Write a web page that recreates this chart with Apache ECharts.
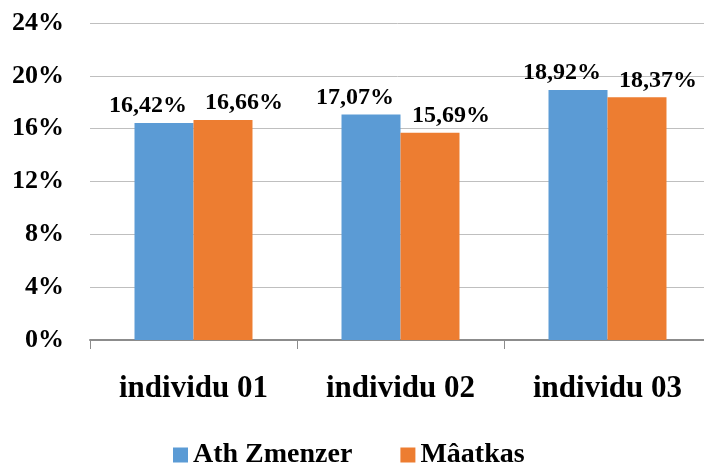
<!DOCTYPE html>
<html>
<head>
<meta charset="utf-8">
<script src="https://cdn.jsdelivr.net/npm/echarts@6/dist/echarts.min.js"></script>
<style>
html,body{margin:0;padding:0;background:#fff;}
#c{width:704px;height:464px;}
</style>
</head>
<body>
<div id="c"></div>
<script>
const categories = ['individu 01', 'individu 02', 'individu 03'];
const seriesNames = ['Ath Zmenzer', 'Mâatkas'];
const athZmenzer = [16.42, 17.07, 18.92];
const maatkas = [16.66, 15.69, 18.37];
const yMin = 0, yMax = 24, yStep = 4;

const FONT = '"Liberation Serif", "Times New Roman", serif';
const fmt = v => v.toFixed(2).replace('.', ',') + '%';

const chart = echarts.init(document.getElementById('c'), null, {renderer: 'canvas'});
chart.setOption({
  animation: false,
  backgroundColor: '#ffffff',
  textStyle: {fontFamily: FONT},
  grid: {left: 90, width: 621, top: 23, bottom: 124, containLabel: false, outerBoundsMode: 'none'},
  legend: {
    data: seriesNames,
    top: 441,
    left: 173,
    padding: 0,
    itemWidth: 15,
    itemHeight: 15,
    itemGap: 48,
    icon: 'rect',
    textStyle: {fontFamily: FONT, fontSize: 28, fontWeight: 'bold', color: '#000'}
  },
  xAxis: {
    type: 'category',
    data: categories,
    boundaryGap: true,
    axisLine: {lineStyle: {color: '#8c8c8c', width: 2}},
    axisTick: {show: true, alignWithLabel: false, length: 9, lineStyle: {color: '#8c8c8c', width: 1}},
    axisLabel: {margin: 33, fontFamily: FONT, fontSize: 31, fontWeight: 'bold', color: '#000'}
  },
  yAxis: {
    type: 'value',
    min: yMin, max: yMax, interval: yStep,
    axisLine: {show: false},
    axisTick: {show: false},
    splitLine: {lineStyle: {color: '#bfbfbf', width: 1}},
    axisLabel: {margin: 26, fontFamily: FONT, fontSize: 26, fontWeight: 'bold', color: '#000',
      formatter: v => v + '%'}
  },
  series: [
    {
      name: seriesNames[0], type: 'bar', data: athZmenzer,
      barWidth: '28.5%', barGap: '0%',
      itemStyle: {color: '#5b9bd5'},
      label: {show: true, position: 'top', distance: 5, offset: [-16, 0],
        fontFamily: FONT, fontSize: 24, fontWeight: 'bold', color: '#000',
        formatter: p => fmt(p.value)}
    },
    {
      name: seriesNames[1], type: 'bar', data: maatkas,
      barWidth: '28.5%', barGap: '0%',
      itemStyle: {color: '#ed7d31'},
      label: {show: true, position: 'top', distance: 5, offset: [21, 0],
        fontFamily: FONT, fontSize: 24, fontWeight: 'bold', color: '#000',
        formatter: p => fmt(p.value)}
    }
  ]
});
</script>
</body>
</html>
